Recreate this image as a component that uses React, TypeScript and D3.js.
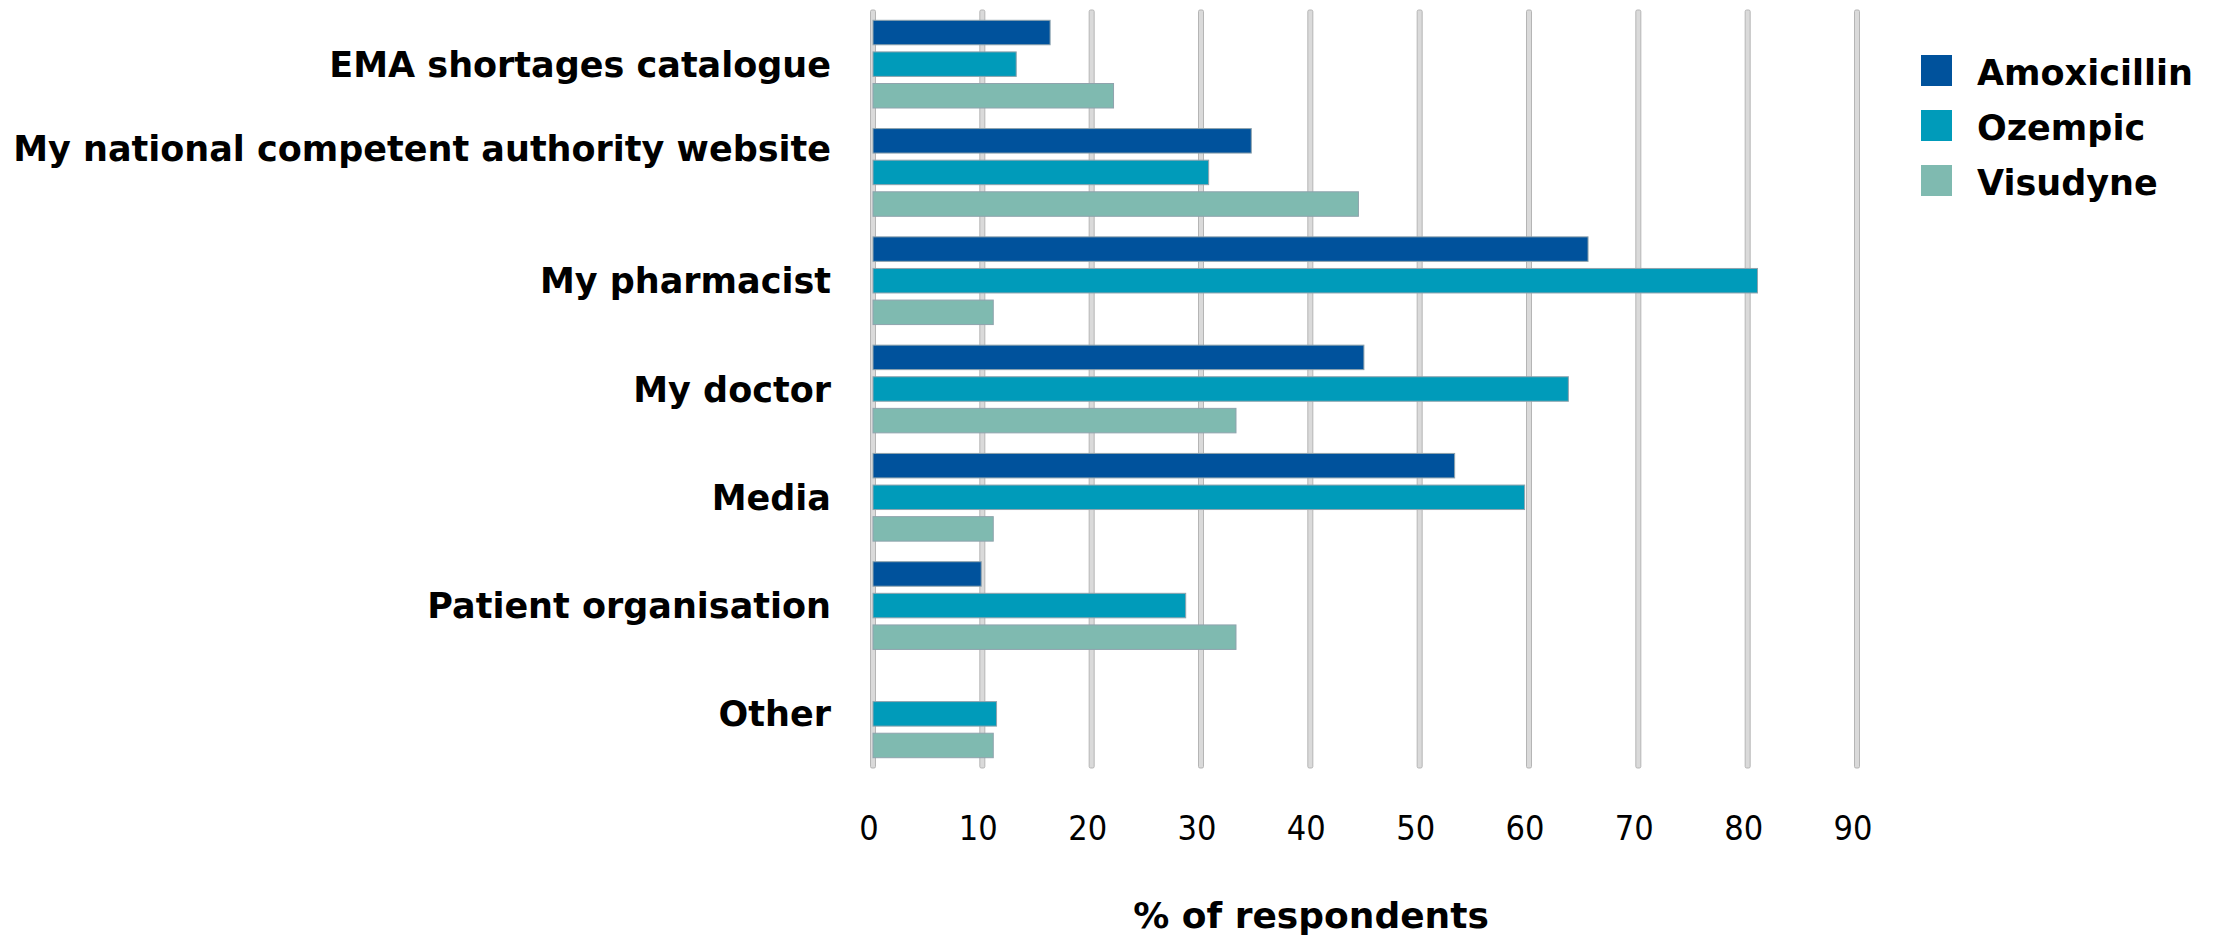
import React from "react";
import * as d3 from "d3";

const categories = [
  "EMA shortages catalogue",
  "My national competent authority website",
  "My pharmacist",
  "My doctor",
  "Media",
  "Patient organisation",
  "Other",
];
// label lines (second empty line reproduces the wrapped label in the original)
const categoryLabelLines: string[][] = [
  ["EMA shortages catalogue"],
  ["My national competent authority website", ""],
  ["My pharmacist"],
  ["My doctor"],
  ["Media"],
  ["Patient organisation"],
  ["Other"],
];
const seriesNames = ["Amoxicillin", "Ozempic", "Visudyne"];
const amoxicillin = [16.2, 34.6, 65.4, 44.9, 53.2, 9.9, 0];
const ozempic = [13.1, 30.7, 80.9, 63.6, 59.6, 28.6, 11.3];
const visudyne = [22.0, 44.4, 11.0, 33.2, 11.0, 33.2, 11.0];
const tickValues = [0, 10, 20, 30, 40, 50, 60, 70, 80, 90];
const colors = ["#00529C", "#009BBA", "#7FBAB0"];
const axisTitle = "% of respondents";

const W = 2213;
const H = 938;
const FONT = "'DejaVu Sans', sans-serif";
const FONT_COND = "'DejaVu Sans Condensed', 'DejaVu Sans', sans-serif";

export default function App() {
  const series = [amoxicillin, ozempic, visudyne];
  const x = d3.scaleLinear().domain([0, 90]).range([873, 1857]);
  const y = d3
    .scaleBand<string>()
    .domain(categories)
    .range([10, 768])
    .paddingInner(0.19)
    .paddingOuter(0.095);
  const yi = d3
    .scaleBand<string>()
    .domain(seriesNames)
    .range([0, y.bandwidth()])
    .paddingInner(0.225)
    .paddingOuter(0);

  return (
    <svg
      width={W}
      height={H}
      style={{ position: "absolute", left: 0, top: 0, background: "#fff" }}
      fontFamily={FONT}
    >
      <rect x={0} y={0} width={W} height={H} fill="#fff" />
      {/* gridlines */}
      {tickValues.map((t) => (
        <rect
          key={"g" + t}
          x={x(t) - 2.5}
          y={10}
          width={5}
          height={758}
          rx={1.5}
          fill="#dadada"
          stroke="#b5b5b5"
          strokeWidth={1}
        />
      ))}
      {/* bars */}
      {categories.map((c, ci) => (
        <g key={c}>
          {series.map((vals, si) =>
            vals[ci] > 0 ? (
              <rect
                key={si}
                x={x(0)}
                y={(y(c) as number) + (yi(seriesNames[si]) as number)}
                width={x(vals[ci]) - x(0)}
                height={yi.bandwidth()}
                fill={colors[si]}
                stroke="#8fa3ad"
                strokeWidth={1}
              />
            ) : null
          )}
        </g>
      ))}
      {/* category labels */}
      {categories.map((c, ci) => {
        const lines = categoryLabelLines[ci];
        const cy = (y(c) as number) + y.bandwidth() / 2;
        const lh = 48;
        const top = cy - ((lines.length - 1) * lh) / 2;
        return (
          <text
            key={"l" + c}
            textAnchor="end"
            fontWeight="bold"
            fontSize={35}
            fill="#000"
          >
            {lines.map((ln, li) => (
              <tspan key={li} x={831} y={top + li * lh} dy="0.36em">
                {ln}
              </tspan>
            ))}
          </text>
        );
      })}
      {/* tick labels */}
      {tickValues.map((t) => (
        <text
          key={"t" + t}
          x={x(t) - 4}
          y={840}
          textAnchor="middle"
          fontSize={34}
          fill="#000"
          fontFamily={FONT_COND}
          style={{ fontStretch: "condensed" }}
        >
          {t}
        </text>
      ))}
      {/* axis title */}
      <text
        x={1311}
        y={928}
        textAnchor="middle"
        fontWeight="bold"
        fontSize={36}
        fill="#000"
      >
        {axisTitle}
      </text>
      {/* legend */}
      {seriesNames.map((s, i) => (
        <g key={"lg" + s}>
          <rect x={1921} y={55 + i * 55} width={31} height={31} fill={colors[i]} />
          <text
            x={1977}
            y={85 + i * 55}
            fontWeight="bold"
            fontSize={35}
            fill="#000"
          >
            {s}
          </text>
        </g>
      ))}
    </svg>
  );
}
